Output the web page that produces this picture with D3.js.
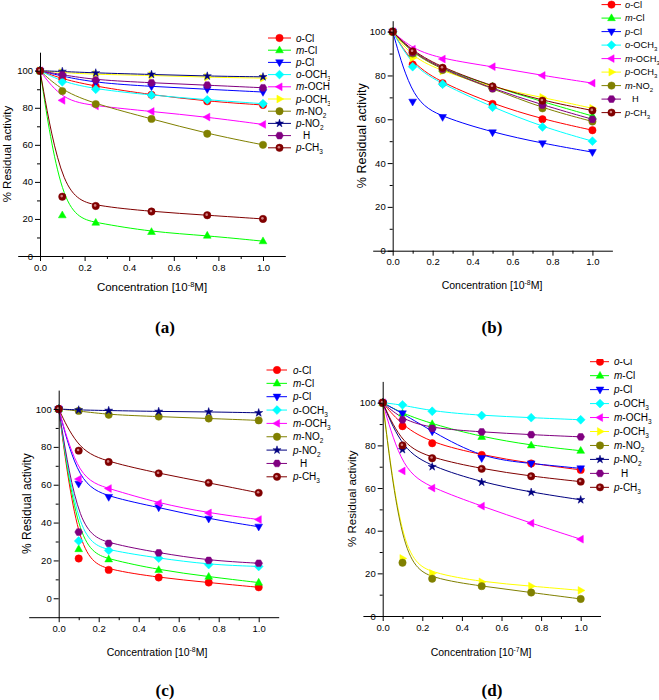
<!DOCTYPE html>
<html><head><meta charset="utf-8">
<script src="https://cdn.jsdelivr.net/npm/d3@7"></script>
<style>body{margin:0;background:#fff}svg{display:block}</style>
</head><body>
<svg id="chart" width="659" height="700"></svg>
<script>
// ---------- DATA ----------
const conc = [0, 0.1, 0.25, 0.5, 0.75, 1.0];

// Panel (a)  [10^-8 M]
const a_oCl   = [100, 95.5, 91.5, 87, 83.5, 81.5];
const a_mCl   = [100, 22, 18, 13, 11, 8];
const a_pCl   = [100, 97, 93.5, 91.5, 90, 88.5];
const a_oOCH3 = [100, 94, 90, 86.8, 84.3, 82.2];
const a_mOCH3 = [100, 84, 81, 78, 75, 71];
const a_pOCH3 = [100, 99, 98, 97.5, 96.5, 96];
const a_mNO2  = [100, 89, 82, 74, 66, 60];
const a_pNO2  = [100, 99.6, 98.8, 98, 97.1, 96.7];
const a_H     = [100, 97.8, 95, 93.5, 92.2, 90.8];
const a_pCH3  = [100, 32, 27, 24, 22, 20];

// Panel (b)  [10^-8 M]
const b_oCl   = [100, 85, 76.5, 67, 60, 55];
const b_mCl   = [100, 90, 83, 75, 68, 61.5];
const b_pCl   = [100, 68, 61, 54, 49, 45];
const b_oOCH3 = [100, 84, 76, 65.5, 56.5, 50];
const b_mOCH3 = [100, 92, 87.5, 84, 80, 76.5];
const b_pOCH3 = [100, 88, 82, 74.5, 70, 65];
const b_mNO2  = [100, 90, 82.5, 74, 65, 59];
const b_H     = [100, 90.5, 83, 74, 66.5, 60];
const b_pCH3  = [100, 91, 83.5, 75, 68.5, 64];

// Panel (c)  [10^-8 M]
const c_oCl   = [100, 21, 15, 11, 8.3, 5.8];
const c_mCl   = [100, 26, 20.6, 15, 11.4, 8.3];
const c_pCl   = [100, 60.5, 53.5, 48, 42, 37.8];
const c_oOCH3 = [100, 30.3, 25.3, 21.2, 17.8, 16.8];
const c_mOCH3 = [100, 63, 58, 50.2, 45.1, 41.6];
const c_mNO2  = [100, 99, 97, 96, 95, 94];
const c_pNO2  = [100, 99.5, 99.2, 98.7, 98.5, 98];
const c_H     = [100, 35, 29, 24, 20, 18.5];
const c_pCH3  = [100, 78, 72, 66, 61, 55.7];

// Panel (d)  [10^-7 M]
const d_oCl   = [100, 89, 81, 75.5, 71.5, 68.5];
const d_mCl   = [100, 95, 90, 84, 80, 77.5];
const d_pCl   = [100, 95, 86.5, 74, 71.5, 69.2];
const d_oOCH3 = [100, 99, 96, 94, 93, 92];
const d_mOCH3 = [100, 68, 60, 51.5, 43.5, 36];
const d_pOCH3 = [100, 27, 20, 16, 14, 12];
const d_mNO2  = [100, 25, 17.5, 14, 11, 8];
const d_pNO2  = [100, 78, 70, 62.7, 58, 54.5];
const d_H     = [100, 92, 88, 86.3, 85, 84];
const d_pCH3  = [100, 80, 74, 69, 65.5, 63];

const xTickLabels = ["0.0", "0.2", "0.4", "0.6", "0.8", "1.0"];
const yTickLabels = ["0", "20", "40", "60", "80", "100"];
const panelLetters = ["(a)", "(b)", "(c)", "(d)"];
const concExponents = ["-8", "-8", "-8", "-7"];

// legend labels: [italic prefix, main text, subscript]
const seriesLabels = {
  oCl: ["o", "-Cl", ""], mCl: ["m", "-Cl", ""], pCl: ["p", "-Cl", ""],
  oOCH3: ["o", "-OCH", "3"], mOCH3: ["m", "-OCH", "3"], pOCH3: ["p", "-OCH", "3"],
  mNO2: ["m", "-NO", "2"], pNO2: ["p", "-NO", "2"], H: ["", "H", ""], pCH3: ["p", "-CH", "3"]
};

const seriesA = [["oCl", a_oCl], ["mCl", a_mCl], ["pCl", a_pCl], ["oOCH3", a_oOCH3], ["mOCH3", a_mOCH3],
  ["pOCH3", a_pOCH3], ["mNO2", a_mNO2], ["pNO2", a_pNO2], ["H", a_H], ["pCH3", a_pCH3]];
const seriesB = [["oCl", b_oCl], ["mCl", b_mCl], ["pCl", b_pCl], ["oOCH3", b_oOCH3], ["mOCH3", b_mOCH3],
  ["pOCH3", b_pOCH3], ["mNO2", b_mNO2], ["H", b_H], ["pCH3", b_pCH3]];
const seriesC = [["oCl", c_oCl], ["mCl", c_mCl], ["pCl", c_pCl], ["oOCH3", c_oOCH3], ["mOCH3", c_mOCH3],
  ["mNO2", c_mNO2], ["pNO2", c_pNO2], ["H", c_H], ["pCH3", c_pCH3]];
const seriesD = [["oCl", d_oCl], ["mCl", d_mCl], ["pCl", d_pCl], ["oOCH3", d_oOCH3], ["mOCH3", d_mOCH3],
  ["pOCH3", d_pOCH3], ["mNO2", d_mNO2], ["pNO2", d_pNO2], ["H", d_H], ["pCH3", d_pCH3]];

// ---------- STYLE ----------
const styles = {
  oCl:   {color: "#FF0000", sym: "circle"},
  mCl:   {color: "#00FF00", sym: "triUp"},
  pCl:   {color: "#0000FF", sym: "triDown"},
  oOCH3: {color: "#00FFFF", sym: "diamond"},
  mOCH3: {color: "#FF00FF", sym: "triLeft"},
  pOCH3: {color: "#FFFF00", sym: "triRight"},
  mNO2:  {color: "#808000", sym: "circle"},
  pNO2:  {color: "#000080", sym: "star"},
  H:     {color: "#800080", sym: "hexagon"},
  pCH3:  {color: "#800000", sym: "sphere"}
};

const FONT = "'Liberation Sans', Arial, sans-serif";

const panels = [
  {series: seriesA, xr: [17.7, 285.3], xd: [-0.1, 1.1], yd: [0, 110], yr: [256, 52.2],
   legend: {x1: 268, x2: 291, mx: 279.5, tx: 296, y0: 38, dy: 12.2, fs: 10},
   letter: [165, 333], clip: [0, 0, 330, 350], tickFs: 9.5, xTitle: {x: 152, y: 291, fs: 11.5},
   yTitle: {x: 11, fs: 11.5}},
  {series: seriesB, xr: [372.7, 612.4], xd: [-0.1, 1.1], yd: [0, 105], yr: [250.7, 20.7],
   legend: {x1: 601.5, x2: 621, mx: 611.5, tx: 625, y0: 4.6, dy: 13.5, fs: 9.3},
   letter: [492, 333], clip: [332, 0, 327, 350], tickFs: 9.5, xTitle: {x: 492, y: 289, fs: 10.5},
   yTitle: {x: 366, fs: 12.5}},
  {series: seriesC, xr: [28.7, 278.7], xd: [-0.15, 1.1], yd: [-10, 110], yr: [617.2, 390.1],
   legend: {x1: 266.5, x2: 287, mx: 277, tx: 293, y0: 370, dy: 13.35, fs: 10},
   letter: [165, 696], clip: [0, 355, 331, 345], tickFs: 9.5, xTitle: {x: 157, y: 656, fs: 10.5},
   yTitle: {x: 31, fs: 12}},
  {series: seriesD, xr: [362.9, 600.5], xd: [-0.1, 1.1], yd: [0, 110], yr: [616, 381.4],
   legend: {x1: 590, x2: 609, mx: 600, tx: 614, y0: 361.7, dy: 13.96, fs: 10},
   letter: [492, 696], clip: [332, 359, 327, 341], tickFs: 9.5, xTitle: {x: 481, y: 656, fs: 10.5},
   yTitle: {x: 356, fs: 11.5}}
];

// ---------- SYMBOLS ----------
function symPath(t, r) {
  switch (t) {
    case "triUp": return `M0,${-r * 1.15}L${r * 1.05},${r * 0.7}L${-r * 1.05},${r * 0.7}Z`;
    case "triDown": return `M0,${r * 1.15}L${r * 1.05},${-r * 0.7}L${-r * 1.05},${-r * 0.7}Z`;
    case "triLeft": return `M${-r * 1.15},0L${r * 0.7},${-r * 1.05}L${r * 0.7},${r * 1.05}Z`;
    case "triRight": return `M${r * 1.15},0L${-r * 0.7},${-r * 1.05}L${-r * 0.7},${r * 1.05}Z`;
    case "diamond": return `M0,${-r * 1.2}L${r * 1.2},0L0,${r * 1.2}L${-r * 1.2},0Z`;
    case "hexagon": {
      let p = "";
      for (let i = 0; i < 6; i++) {
        const a = Math.PI / 3 * i;
        p += (i ? "L" : "M") + (r * 1.05 * Math.cos(a)).toFixed(2) + "," + (r * 1.05 * Math.sin(a)).toFixed(2);
      }
      return p + "Z";
    }
    case "star": return d3.symbol(d3.symbolStar, r * r * 1.5)();
    default: return d3.symbol(d3.symbolCircle, Math.PI * r * r)();
  }
}

function drawMarker(g, key, x, y, r) {
  const st = styles[key];
  g.append("path").attr("transform", `translate(${x},${y})`)
    .attr("d", symPath(st.sym, r)).attr("fill", st.color)
    .attr("stroke", st.color).attr("stroke-width", 0.5);
  if (st.sym === "sphere") {
    g.append("circle").attr("cx", x - 0.6).attr("cy", y - 0.6).attr("r", r * 0.35)
      .attr("fill", "#d08080");
  }
}

// ---------- DRAW ----------
const svg = d3.select("#chart");
svg.append("rect").attr("width", 659).attr("height", 700).attr("fill", "#fff");
const defs = svg.append("defs");

panels.forEach((P, pi) => {
  defs.append("clipPath").attr("id", "clip" + pi).append("rect")
    .attr("x", P.clip[0]).attr("y", P.clip[1]).attr("width", P.clip[2]).attr("height", P.clip[3]);
  const g = svg.append("g").attr("clip-path", `url(#clip${pi})`);

  const x = d3.scaleLinear().domain(P.xd).range(P.xr);
  const y = d3.scaleLinear().domain(P.yd).range(P.yr);

  const line = d3.line().x(d => x(d[0])).y(d => y(d[1])).curve(d3.curveBasis);

  // series lines and markers
  P.series.forEach(([key, vals]) => {
    const pts = conc.map((c, i) => [c, vals[i]]);
    g.append("path").attr("d", line(pts)).attr("fill", "none")
      .attr("stroke", styles[key].color).attr("stroke-width", 1);
  });
  P.series.forEach(([key, vals]) => {
    conc.forEach((c, i) => drawMarker(g, key, x(c), y(vals[i]), 3.7));
  });

  // axes
  const xMajor = [0, 0.2, 0.4, 0.6, 0.8, 1.0];
  const xMinor = [0.1, 0.3, 0.5, 0.7, 0.9];
  const yMajor = [0, 20, 40, 60, 80, 100];
  const yMinor = [10, 30, 50, 70, 90];

  const axX = g.append("g").attr("transform", `translate(0,${y(P.yd[0])})`)
    .call(d3.axisBottom(x).tickValues(xMajor).tickFormat((d, i) => xTickLabels[i])
      .tickSize(5).tickSizeOuter(0).tickPadding(3));
  g.append("g").attr("transform", `translate(0,${y(P.yd[0])})`)
    .call(d3.axisBottom(x).tickValues(xMinor).tickFormat("").tickSize(3).tickSizeOuter(0))
    .select(".domain").remove();
  const axY = g.append("g").attr("transform", `translate(${x(0)},0)`)
    .call(d3.axisLeft(y).tickValues(yMajor).tickFormat((d, i) => yTickLabels[i])
      .tickSize(5).tickSizeOuter(0).tickPadding(2));
  g.append("g").attr("transform", `translate(${x(0)},0)`)
    .call(d3.axisLeft(y).tickValues(yMinor).tickFormat("").tickSize(3).tickSizeOuter(0))
    .select(".domain").remove();
  [axX, axY].forEach(a => {
    a.selectAll("text").attr("font-family", FONT).attr("font-size", P.tickFs).attr("fill", "#000");
    a.selectAll("line,path").attr("stroke", "#000").attr("stroke-width", 1);
  });
  g.selectAll(".tick line").attr("stroke", "#000");

  // x title
  const xt = g.append("text").attr("x", P.xTitle.x).attr("y", P.xTitle.y)
    .attr("text-anchor", "middle").attr("font-family", FONT).attr("font-size", P.xTitle.fs);
  xt.append("tspan").text("Concentration [10");
  xt.append("tspan").attr("dy", -P.xTitle.fs * 0.38).attr("font-size", P.xTitle.fs * 0.65).text(concExponents[pi]);
  xt.append("tspan").attr("dy", P.xTitle.fs * 0.38).text("M]");

  // y title
  const ymid = (P.yr[0] + P.yr[1]) / 2;
  g.append("text").attr("transform", `translate(${P.yTitle.x},${ymid}) rotate(-90)`)
    .attr("text-anchor", "middle").attr("font-family", FONT).attr("font-size", P.yTitle.fs)
    .text("% Residual activity");

  // legend
  const L = P.legend;
  P.series.forEach(([key], i) => {
    const ly = L.y0 + i * L.dy;
    g.append("line").attr("x1", L.x1).attr("x2", L.x2).attr("y1", ly).attr("y2", ly)
      .attr("stroke", styles[key].color).attr("stroke-width", 1);
    drawMarker(g, key, L.mx, ly, 3.7);
    const lab = seriesLabels[key];
    const t = g.append("text").attr("x", L.tx + (key === "H" ? 7 : 0)).attr("y", ly).attr("dy", "0.36em")
      .attr("font-family", FONT).attr("font-size", L.fs);
    if (lab[0]) t.append("tspan").attr("font-style", "italic").text(lab[0]);
    t.append("tspan").text(lab[1]);
    if (lab[2]) {
      t.append("tspan").attr("dy", 3).attr("font-size", L.fs * 0.65).text(lab[2]);
    }
  });

  // panel letter
  svg.append("text").attr("x", P.letter[0]).attr("y", P.letter[1]).attr("text-anchor", "middle")
    .attr("font-family", "'Liberation Serif', 'Times New Roman', serif").attr("font-weight", "bold")
    .attr("font-size", 17).text(panelLetters[pi]);
});
</script>
</body></html>
